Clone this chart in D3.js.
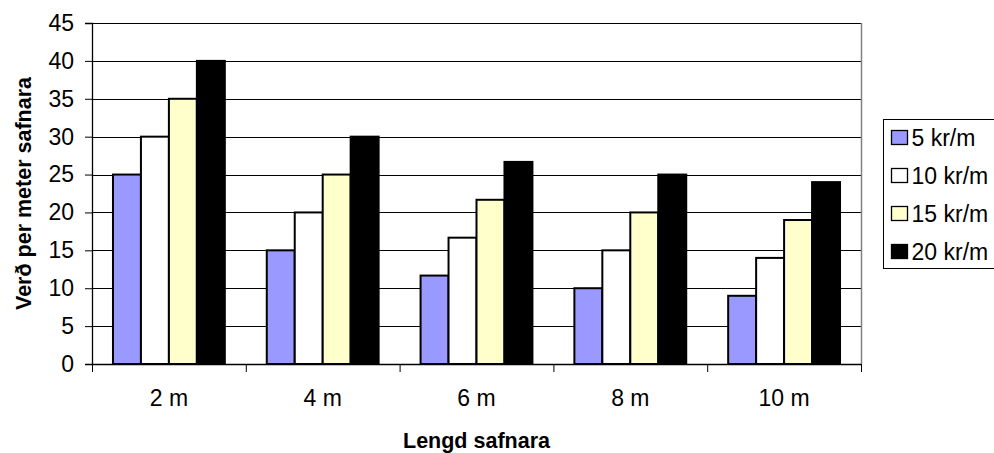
<!DOCTYPE html>
<html>
<head>
<meta charset="utf-8">
<script src="https://cdn.jsdelivr.net/npm/d3@7"></script>
<style>
  html, body { margin: 0; padding: 0; background: #fff; }
  svg { display: block; font-family: "Liberation Sans", Arial, sans-serif; }
</style>
</head>
<body>
<svg id="chart" width="994" height="453"></svg>
<script>
// Price per metre of a collector, by collector length and rate
const categories = ["2 m", "4 m", "6 m", "8 m", "10 m"];
const seriesNames = ["5 kr/m", "10 kr/m", "15 kr/m", "20 kr/m"];
const series5  = [25, 15, 11.67, 10, 9];
const series10 = [30, 20, 16.67, 15, 14];
const series15 = [35, 25, 21.67, 20, 19];
const series20 = [40, 30, 26.67, 25, 24];
const yTicks = [0, 5, 10, 15, 20, 25, 30, 35, 40, 45];
const seriesColors = ["#9999ff", "#ffffff", "#ffffcc", "#000000"];

const allSeries = [series5, series10, series15, series20];
const FONT = 23;        // tick labels and legend
const TITLE_FONT = 21.5; // bold axis titles

const svg = d3.select("#chart");
const plot = { left: 92, right: 861, top: 23, bottom: 364 };

const x = d3.scaleBand().domain(categories).range([plot.left, plot.right]).paddingInner(0).paddingOuter(0);
const y = d3.scaleLinear().domain([0, 45]).range([plot.bottom, plot.top]);

// Bars take 4 of 5.5 slots in each category (gap = 1.5 bar widths)
const barW = x.bandwidth() / 5.5;
const xs = d3.scaleBand().domain(d3.range(seriesNames.length))
  .range([barW * 0.75, barW * 4.75]).padding(0);

// Gridlines
svg.append("g")
  .selectAll("line")
  .data(yTicks.filter(d => d > 0))
  .join("line")
  .attr("x1", plot.left).attr("x2", plot.right)
  .attr("y1", d => Math.round(y(d)) + 0.5).attr("y2", d => Math.round(y(d)) + 0.5)
  .attr("stroke", "#000").attr("stroke-width", 1);

// Right border of plot area
svg.append("line")
  .attr("x1", plot.right + 0.5).attr("x2", plot.right + 0.5)
  .attr("y1", plot.top).attr("y2", plot.bottom)
  .attr("stroke", "#808080").attr("stroke-width", 1.5);

// Bars
const rows = categories.map((c, i) => ({ c, vals: allSeries.map(s => s[i]) }));
const groups = svg.append("g").selectAll("g")
  .data(rows).join("g")
  .attr("transform", d => `translate(${x(d.c)},0)`);
groups.selectAll("rect")
  .data(d => d.vals.map((v, k) => ({ v, k })))
  .join("rect")
  .attr("x", d => xs(d.k))
  .attr("width", xs.bandwidth())
  .attr("y", d => y(d.v))
  .attr("height", d => y(0) - y(d.v))
  .attr("fill", d => seriesColors[d.k])
  .attr("stroke", "#000")
  .attr("stroke-width", 2);

// Y axis
const yAxis = svg.append("g")
  .attr("transform", `translate(${plot.left},0)`)
  .call(d3.axisLeft(y).tickValues(yTicks).tickSize(7).tickPadding(11));
yAxis.select(".domain").attr("stroke", "#000").attr("stroke-width", 1.3);
yAxis.selectAll(".tick line").attr("stroke", "#000");
yAxis.selectAll("text").attr("font-size", FONT).attr("fill", "#000")
  .attr("font-family", "Liberation Sans, Arial, sans-serif");

// X axis
const xAxis = svg.append("g")
  .attr("transform", `translate(0,${plot.bottom})`)
  .call(d3.axisBottom(x).tickSize(0).tickPadding(26));
xAxis.select(".domain").attr("stroke", "#000").attr("stroke-width", 1.3);
xAxis.selectAll("text").attr("font-size", FONT).attr("fill", "#000")
  .attr("font-family", "Liberation Sans, Arial, sans-serif");
// Category separators
xAxis.append("g").selectAll("line")
  .data(categories.map(c => x(c)).concat([plot.right]))
  .join("line")
  .attr("x1", d => d + 0.5).attr("x2", d => d + 0.5)
  .attr("y1", 0).attr("y2", 8)
  .attr("stroke", "#000");

// Axis titles
svg.append("text")
  .attr("x", (plot.left + plot.right) / 2).attr("y", 448)
  .attr("text-anchor", "middle")
  .attr("font-size", TITLE_FONT).attr("font-weight", "bold")
  .text("Lengd safnara");
svg.append("text")
  .attr("transform", `translate(31,${(plot.top + plot.bottom) / 2}) rotate(-90)`)
  .attr("text-anchor", "middle")
  .attr("font-size", TITLE_FONT).attr("font-weight", "bold")
  .text("Verð per meter safnara");

// Legend
const legend = svg.append("g").attr("transform", "translate(883.5,119.5)");
legend.append("rect")
  .attr("width", 140).attr("height", 149)
  .attr("fill", "#fff").attr("stroke", "#000").attr("stroke-width", 1);
const items = legend.selectAll("g.item")
  .data(seriesNames).join("g").attr("class", "item")
  .attr("transform", (d, i) => `translate(0,${18 + i * 38})`);
items.append("rect")
  .attr("x", 8).attr("y", -7).attr("width", 16).attr("height", 14)
  .attr("fill", (d, i) => seriesColors[i])
  .attr("stroke", "#000").attr("stroke-width", 1.3);
items.append("text")
  .attr("x", 28).attr("y", 0).attr("dy", "0.35em")
  .attr("font-size", FONT)
  .text(d => d);
</script>
</body>
</html>
